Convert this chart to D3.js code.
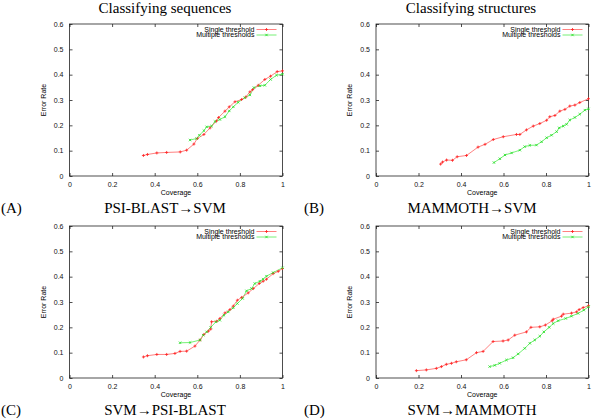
<!DOCTYPE html>
<html>
<head>
<meta charset="utf-8">
<script src="https://cdn.jsdelivr.net/npm/d3@7"></script>
<style>
  html, body { margin: 0; padding: 0; background: #fff; }
  svg { display: block; }
</style>
</head>
<body>
<svg id="chart" width="600" height="419"></svg>
<script>
// ---------- data ----------
const xTicks = [0, 0.2, 0.4, 0.6, 0.8, 1];
const xTickLabels = ["0", "0.2", "0.4", "0.6", "0.8", "1"];
const yTicks = [0, 0.1, 0.2, 0.3, 0.4, 0.5, 0.6];
const yTickLabels = ["0", "0.1", "0.2", "0.3", "0.4", "0.5", "0.6"];
const seriesNames = ["Single threshold", "Multiple thresholds"];
const columnTitles = ["Classifying sequences", "Classifying structures"];
const panelLetters = ["(A)", "(B)", "(C)", "(D)"];
const panelNames = ["PSI-BLAST\u2192SVM", "MAMMOTH\u2192SVM", "SVM\u2192PSI-BLAST", "SVM\u2192MAMMOTH"];

// Panel A: PSI-BLAST -> SVM
const aSingleCoverage = [0.347,0.366,0.41,0.456,0.52,0.55,0.584,0.6,0.631,0.66,0.69,0.70,0.73,0.75,0.777,0.808,0.828,0.847,0.86,0.886,0.917,0.944,0.975,1.0];
const aSingleError    = [0.081,0.085,0.091,0.093,0.095,0.102,0.126,0.148,0.164,0.19,0.217,0.231,0.256,0.273,0.293,0.302,0.312,0.332,0.341,0.358,0.381,0.394,0.412,0.415];
const aMultiCoverage  = [0.566,0.597,0.61,0.631,0.644,0.667,0.683,0.706,0.73,0.75,0.769,0.792,0.823,0.847,0.866,0.894,0.917,0.944,0.972,1.0];
const aMultiError     = [0.142,0.148,0.161,0.179,0.194,0.197,0.215,0.223,0.234,0.257,0.273,0.291,0.309,0.32,0.349,0.356,0.358,0.381,0.398,0.402];

// Panel B: MAMMOTH -> SVM
const bSingleCoverage = [0.304,0.313,0.332,0.36,0.382,0.426,0.48,0.513,0.552,0.599,0.661,0.677,0.708,0.74,0.771,0.803,0.818,0.842,0.865,0.889,0.912,0.936,0.959,1.0];
const bSingleError    = [0.047,0.055,0.063,0.062,0.076,0.081,0.114,0.125,0.144,0.155,0.164,0.164,0.182,0.197,0.207,0.22,0.234,0.239,0.256,0.263,0.276,0.28,0.29,0.305];
const bMultiCoverage  = [0.555,0.583,0.607,0.638,0.677,0.7,0.724,0.755,0.779,0.803,0.826,0.85,0.862,0.881,0.897,0.912,0.936,0.959,0.983,1.0];
const bMultiError     = [0.053,0.068,0.083,0.091,0.102,0.116,0.121,0.122,0.135,0.151,0.161,0.175,0.19,0.197,0.204,0.221,0.231,0.244,0.26,0.265];

// Panel C: SVM -> PSI-BLAST
const cSingleCoverage = [0.347,0.366,0.41,0.456,0.495,0.519,0.55,0.589,0.613,0.631,0.652,0.663,0.667,0.691,0.706,0.73,0.753,0.769,0.788,0.808,0.839,0.863,0.891,0.909,0.925,0.956,0.98,1.0];
const cSingleError    = [0.083,0.088,0.093,0.093,0.097,0.105,0.106,0.126,0.15,0.172,0.185,0.193,0.222,0.224,0.235,0.257,0.27,0.284,0.307,0.318,0.336,0.353,0.373,0.382,0.39,0.412,0.421,0.432];
const cMultiCoverage  = [0.519,0.566,0.613,0.628,0.644,0.663,0.688,0.706,0.725,0.745,0.769,0.788,0.813,0.831,0.855,0.87,0.894,0.909,0.925,0.956,1.0];
const cMultiError     = [0.139,0.14,0.15,0.169,0.182,0.2,0.222,0.228,0.248,0.261,0.277,0.294,0.314,0.344,0.353,0.373,0.382,0.39,0.402,0.416,0.435];

// Panel D: SVM -> MAMMOTH
const dSingleCoverage = [0.19,0.237,0.284,0.308,0.331,0.355,0.378,0.425,0.473,0.504,0.551,0.598,0.622,0.653,0.708,0.729,0.771,0.797,0.829,0.834,0.873,0.881,0.92,0.944,0.956,0.975,1.0];
const dSingleError    = [0.029,0.032,0.038,0.045,0.054,0.058,0.064,0.072,0.1,0.105,0.144,0.146,0.15,0.169,0.182,0.2,0.202,0.209,0.226,0.232,0.244,0.252,0.256,0.261,0.27,0.278,0.285];
const dMultiCoverage  = [0.535,0.559,0.582,0.614,0.645,0.669,0.7,0.724,0.747,0.771,0.79,0.815,0.834,0.857,0.893,0.92,0.951,0.978,1.0];
const dMultiError     = [0.045,0.05,0.058,0.071,0.08,0.095,0.117,0.137,0.15,0.165,0.182,0.2,0.215,0.226,0.235,0.244,0.255,0.268,0.281];

// ---------- layout ----------
const panels = [
  { sc: aSingleCoverage, se: aSingleError, mc: aMultiCoverage, me: aMultiError, left: 69.5, right: 282.5, top: 24, bottom: 176, cx: 165, letterX: 1, labelY: 213 },
  { sc: bSingleCoverage, se: bSingleError, mc: bMultiCoverage, me: bMultiError, left: 376, right: 588.5, top: 24, bottom: 176, cx: 472, letterX: 304, labelY: 213 },
  { sc: cSingleCoverage, se: cSingleError, mc: cMultiCoverage, me: cMultiError, left: 69.5, right: 282.5, top: 226, bottom: 378, cx: 165, letterX: 1, labelY: 415 },
  { sc: dSingleCoverage, se: dSingleError, mc: dMultiCoverage, me: dMultiError, left: 376, right: 588.5, top: 226, bottom: 378, cx: 472, letterX: 304, labelY: 415 }
];

const svg = d3.select("#chart");
const serif = "'Liberation Serif', 'DejaVu Serif', serif";
const sans = "'Liberation Sans', Arial, sans-serif";
const redLine = "#ff7373", redMark = "#ff2020";
const greenLine = "#66ee66", greenMark = "#22dd22";

// column titles
[165, 471].forEach((x, i) => {
  svg.append("text").attr("x", x).attr("y", 13).attr("text-anchor", "middle")
    .style("font-family", serif).style("font-size", "15px").text(columnTitles[i]);
});

panels.forEach((p, i) => {
  const x = d3.scaleLinear().domain([0, 1]).range([p.left, p.right]);
  const y = d3.scaleLinear().domain([0, 0.6]).range([p.bottom, p.top]);
  const g = svg.append("g");

  // frame
  g.append("rect").attr("x", p.left).attr("y", p.top)
    .attr("width", p.right - p.left).attr("height", p.bottom - p.top)
    .attr("fill", "none").attr("stroke", "#222").attr("stroke-width", 0.8);

  const fmtX = (d, j) => xTickLabels[j];
  const fmtY = (d, j) => yTickLabels[j];

  // bottom axis (ticks inward)
  const ax = g.append("g").attr("transform", `translate(0,${p.bottom})`)
    .call(d3.axisBottom(x).tickValues(xTicks).tickFormat(fmtX).tickSizeInner(-3).tickSizeOuter(0).tickPadding(6));
  const axTop = g.append("g").attr("transform", `translate(0,${p.top})`)
    .call(d3.axisTop(x).tickValues(xTicks).tickFormat("").tickSizeInner(-3).tickSizeOuter(0));
  const ay = g.append("g").attr("transform", `translate(${p.left},0)`)
    .call(d3.axisLeft(y).tickValues(yTicks).tickFormat(fmtY).tickSizeInner(-3).tickSizeOuter(0).tickPadding(6));
  const ayR = g.append("g").attr("transform", `translate(${p.right},0)`)
    .call(d3.axisRight(y).tickValues(yTicks).tickFormat("").tickSizeInner(-3).tickSizeOuter(0));
  [ax, axTop, ay, ayR].forEach(a => {
    a.select(".domain").remove();
    a.selectAll("line").attr("stroke", "#222").attr("stroke-width", 0.8);
    a.selectAll("text").style("font-family", sans).style("font-size", "7px").attr("fill", "#111");
  });

  // axis titles
  g.append("text").attr("x", (p.left + p.right) / 2).attr("y", p.bottom + 18.5)
    .attr("text-anchor", "middle").style("font-family", sans).style("font-size", "7px").text("Coverage");
  g.append("text").attr("transform", `translate(${p.left - 24},${(p.top + p.bottom) / 2}) rotate(-90)`)
    .attr("text-anchor", "middle").style("font-family", sans).style("font-size", "7px").text("Error Rate");

  // series
  const line = d3.line().x(d => x(d[0])).y(d => y(d[1]));
  const single = p.sc.map((c, k) => [c, p.se[k]]);
  const multi = p.mc.map((c, k) => [c, p.me[k]]);

  g.append("path").datum(multi).attr("d", line).attr("fill", "none")
    .attr("stroke", greenLine).attr("stroke-width", 0.9);
  g.append("path").datum(single).attr("d", line).attr("fill", "none")
    .attr("stroke", redLine).attr("stroke-width", 0.9);

  const plus = d3.symbol().type(d3.symbolCross).size(0);
  // plus markers for single
  g.selectAll(".ps").data(single).enter().append("path")
    .attr("d", d => `M${x(d[0]) - 1.5},${y(d[1])}h3M${x(d[0])},${y(d[1]) - 1.5}v3`)
    .attr("stroke", redMark).attr("stroke-width", 0.8);
  // x markers for multiple
  g.selectAll(".pm").data(multi).enter().append("path")
    .attr("d", d => `M${x(d[0]) - 1.2},${y(d[1]) - 1.2}l2.4,2.4M${x(d[0]) - 1.2},${y(d[1]) + 1.2}l2.4,-2.4`)
    .attr("stroke", greenMark).attr("stroke-width", 0.8);

  // legend
  const lgX1 = p.right - 26, lgX2 = p.right - 6, txtX = p.right - 28;
  const lg = [[p.top + 5.5, redLine, redMark, 0], [p.top + 11, greenLine, greenMark, 1]];
  lg.forEach(([ly, lc, mc, k]) => {
    g.append("text").attr("x", txtX).attr("y", ly + 2.4).attr("text-anchor", "end")
      .style("font-family", sans).style("font-size", "7px").text(seriesNames[k]);
    g.append("line").attr("x1", lgX1).attr("x2", lgX2).attr("y1", ly).attr("y2", ly)
      .attr("stroke", lc).attr("stroke-width", 0.9);
    const mx = (lgX1 + lgX2) / 2;
    g.append("path").attr("d", k === 0
        ? `M${mx - 1.5},${ly}h3M${mx},${ly - 1.5}v3`
        : `M${mx - 1.2},${ly - 1.2}l2.4,2.4M${mx - 1.2},${ly + 1.2}l2.4,-2.4`)
      .attr("stroke", mc).attr("stroke-width", 0.8);
  });

  // panel letter and name
  svg.append("text").attr("x", p.letterX).attr("y", p.labelY)
    .style("font-family", serif).style("font-size", "15px").text(panelLetters[i]);
  svg.append("text").attr("x", p.cx).attr("y", p.labelY).attr("text-anchor", "middle")
    .style("font-family", serif).style("font-size", "15px").text(panelNames[i]);
});
</script>
</body>
</html>
